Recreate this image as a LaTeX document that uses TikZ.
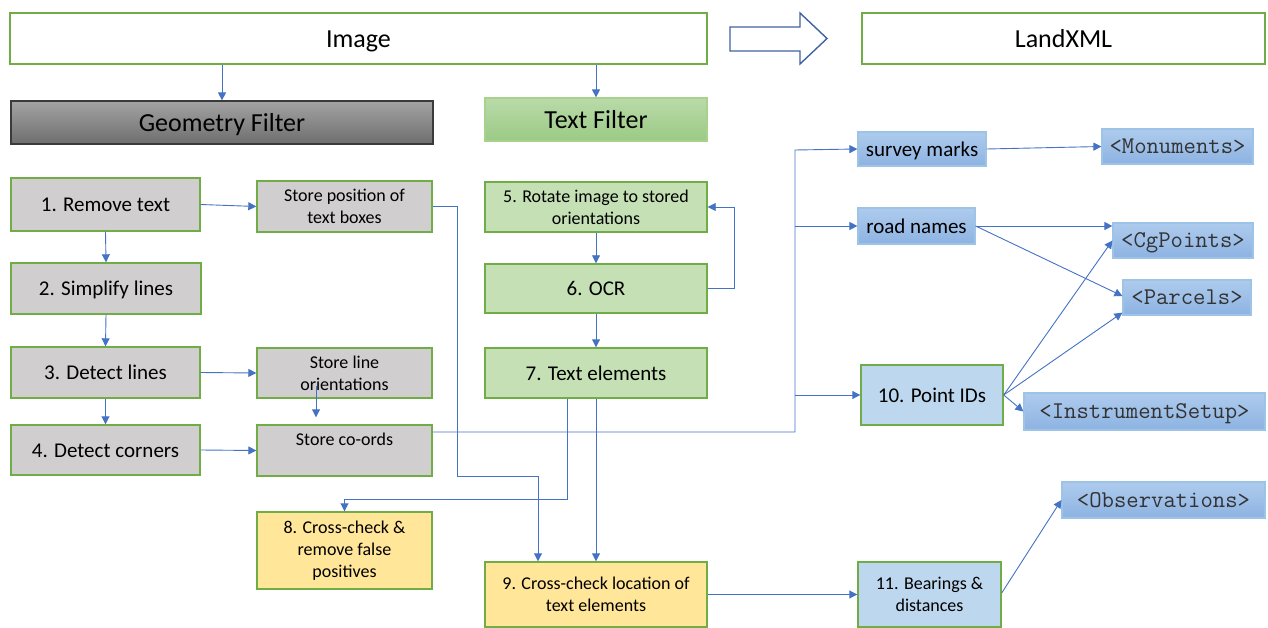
\documentclass[tikz,border=0pt]{standalone}
\usepackage{fontspec}
\setmainfont{Carlito}
\usetikzlibrary{arrows.meta}

\definecolor{edgegreen}{HTML}{70AD47}
\definecolor{fillgray}{HTML}{D0CECE}
\definecolor{fillgreen}{HTML}{C5E0B4}
\definecolor{fillyellow}{HTML}{FFE699}
\definecolor{filllblue}{HTML}{BDD7EE}
\definecolor{linkblue}{HTML}{4472C4}
\definecolor{tagtop}{HTML}{AECBED}
\definecolor{tagbot}{HTML}{8DB3E2}
\definecolor{tagedge}{HTML}{9DC3E6}
\definecolor{geotop}{HTML}{A3A3A3}
\definecolor{geobot}{HTML}{6E6E6E}
\definecolor{geoedge}{HTML}{3A3A3A}
\definecolor{txttop}{HTML}{B9DAA9}
\definecolor{txtbot}{HTML}{9BCA85}
\definecolor{txtedge}{HTML}{A9D18E}
\definecolor{bigarrow}{HTML}{41639F}

\begin{document}
\begin{tikzpicture}[x=1pt,y=-1pt,
  box/.style={draw=edgegreen, line width=1.4pt, inner sep=0pt, align=center,
              font=\fontsize{18}{22}\selectfont},
  midtext/.style={font=\fontsize{21}{25}\selectfont, text height=20pt, text depth=5.7pt},
  bigtext/.style={font=\fontsize{26}{30}\selectfont, text height=25pt, text depth=7pt},
  gbox/.style={box, fill=fillgray},
  tbox/.style={box, fill=fillgreen},
  ybox/.style={box, fill=fillyellow},
  lbox/.style={box, fill=filllblue},
  tagbox/.style={draw=tagedge, line width=1.2pt, top color=tagtop, bottom color=tagbot,
                 inner sep=0pt, align=center},
  xmltag/.style={tagbox, font=\ttfamily\fontsize{24}{28}\selectfont, text=black!80,
                 text height=20.5pt, text depth=6.5pt},
  arr/.style={draw=linkblue, line width=0.9pt, -{Triangle[length=8pt,width=8pt]}}
]
\useasboundingbox (0,0) rectangle (1268,628);

% top row
\node[box, fill=white, bigtext, minimum width=697, minimum height=51] (img) at (358.5,38.5) {Image};
\node[box, fill=white, bigtext, minimum width=403, minimum height=51] (land) at (1063.5,38.5) {LandXML};
\draw[draw=bigarrow, line width=1.4pt, fill=white, line join=miter]
  (730,27) -- (800,27) -- (800,13) -- (827,38.5) -- (800,64) -- (800,51) -- (730,51) -- cycle;

% filter headers
\node[draw=geoedge, line width=1.2pt, top color=geotop, bottom color=geobot, bigtext,
      minimum width=422, minimum height=43, inner sep=0pt] (geo) at (222,122.5) {Geometry Filter};
\node[draw=txtedge, line width=1.2pt, top color=txttop, bottom color=txtbot, bigtext,
      minimum width=222, minimum height=43, inner sep=0pt] (tf) at (596,119.5) {Text Filter};

% geometry branch
\node[gbox, midtext, minimum width=189, minimum height=53] (b1) at (105.5,204.5) {1. Remove text};
\node[gbox, midtext, minimum width=190, minimum height=51] (b2) at (106,288.5) {2. Simplify lines};
\node[gbox, midtext, minimum width=189, minimum height=51] (b3) at (105.5,372.5) {3. Detect lines};
\node[gbox, midtext, minimum width=189, minimum height=50] (b4) at (105.5,450) {4. Detect corners};
\node[gbox, minimum width=175, minimum height=51] (sp) at (344.5,206.5) {Store position of\\text boxes};
\node[gbox, minimum width=175, minimum height=50] (sl) at (344.5,373) {Store line\\orientations};
\node[gbox, minimum width=175, minimum height=51] (sc) at (344.5,450.5) {Store co-ords\\\mbox{}};

% text branch
\node[tbox, minimum width=222, minimum height=50] (b5) at (596,207) {5. Rotate image to stored\\orientations};
\node[tbox, midtext, minimum width=222, minimum height=49] (b6) at (596,288.5) {6. OCR};
\node[tbox, midtext, minimum width=222, minimum height=50] (b7) at (596,373) {7. Text elements};

% cross-checks
\node[ybox, minimum width=175, minimum height=77] (b8) at (344.5,550.5) {8. Cross-check \&\\remove false\\positives};
\node[ybox, minimum width=222, minimum height=65] (b9) at (596,594.5) {9. Cross-check location of\\text elements};

% outputs
\node[tagbox, midtext, minimum width=128, minimum height=34] (sm) at (922,149) {survey marks};
\node[tagbox, midtext, minimum width=117, minimum height=36] (rn) at (916.5,226) {road names};
\node[lbox, midtext, minimum width=142, minimum height=60] (b10) at (932,395) {10. Point IDs};
\node[lbox, minimum width=143, minimum height=65] (b11) at (929.5,594.5) {11. Bearings \&\\distances};

\node[xmltag, minimum width=151, minimum height=35] (mon) at (1177.5,146.5) {<Monuments>};
\node[xmltag, minimum width=140, minimum height=35] (cg) at (1183,240.5) {<CgPoints>};
\node[xmltag, minimum width=128, minimum height=35] (par) at (1187,297.5) {<Parcels>};
\node[xmltag, minimum width=241, minimum height=37] (ins) at (1144.5,411.5) {<InstrumentSetup>};
\node[xmltag, minimum width=203, minimum height=36] (obs) at (1163.5,500) {<Observations>};

% connectors: image to filters
\draw[arr] (geo.north |- img.south) -- (geo.north);
\draw[arr] (tf.north |- img.south) -- (tf.north);

% geometry chain
\draw[arr] (b1.south) -- (b2.north);
\draw[arr] (b2.south) -- (b3.north);
\draw[arr] (b3.south) -- (b4.north);
\draw[arr] (b1.east) -- (sp.west);
\draw[arr] (b3.east) -- (sl.west);
\draw[arr] (b4.east) -- (sc.west);
\draw[arr, shorten >=7pt] ([xshift=-28.5pt,yshift=13pt]sl.south) -- ([xshift=-28.5pt]sc.north);

% text chain
\draw[arr] (b5.south) -- (b6.north);
\draw[arr] (b6.south) -- (b7.north);
\draw[arr] (b6.east) -- ++(27,0) |- (b5.east);

% stored text positions and text elements to the cross-checks
\coordinate (tp) at (457,476);
\draw[arr] (sp.east) -| (tp) -| ([xshift=-58pt]b9.north);
\draw[arr] ([xshift=-29pt]b7.south) -- ++(0,101) -| (b8.north);
\draw[arr] (b7.south) -- (b9.north);

% co-ordinates bus to the output classes
\coordinate (bus) at (795,150);
\draw[arr] ([yshift=18.5pt]sc.east) -| (bus) -- (sm.west);
\draw[arr] (bus |- rn.west) -- (rn.west);
\draw[arr] (bus |- b10.west) -- (b10.west);
\draw[arr] (b9.east) -- (b11.west);

% output classes to LandXML elements
\draw[arr] (sm.east) -- (mon.west);
\draw[arr] (rn.east) -- (rn.east -| cg.west);
\draw[arr] (rn.east) -- ([yshift=1.5pt]par.west);
\draw[arr] (b10.east) -- (cg.west);
\draw[arr] (b10.east) -- ([yshift=3pt]par.south west);
\draw[arr] (b10.east) -- (ins.west);
\draw[arr] ([yshift=1.5pt]b11.east) -- (obs.west);
\end{tikzpicture}
\end{document}
